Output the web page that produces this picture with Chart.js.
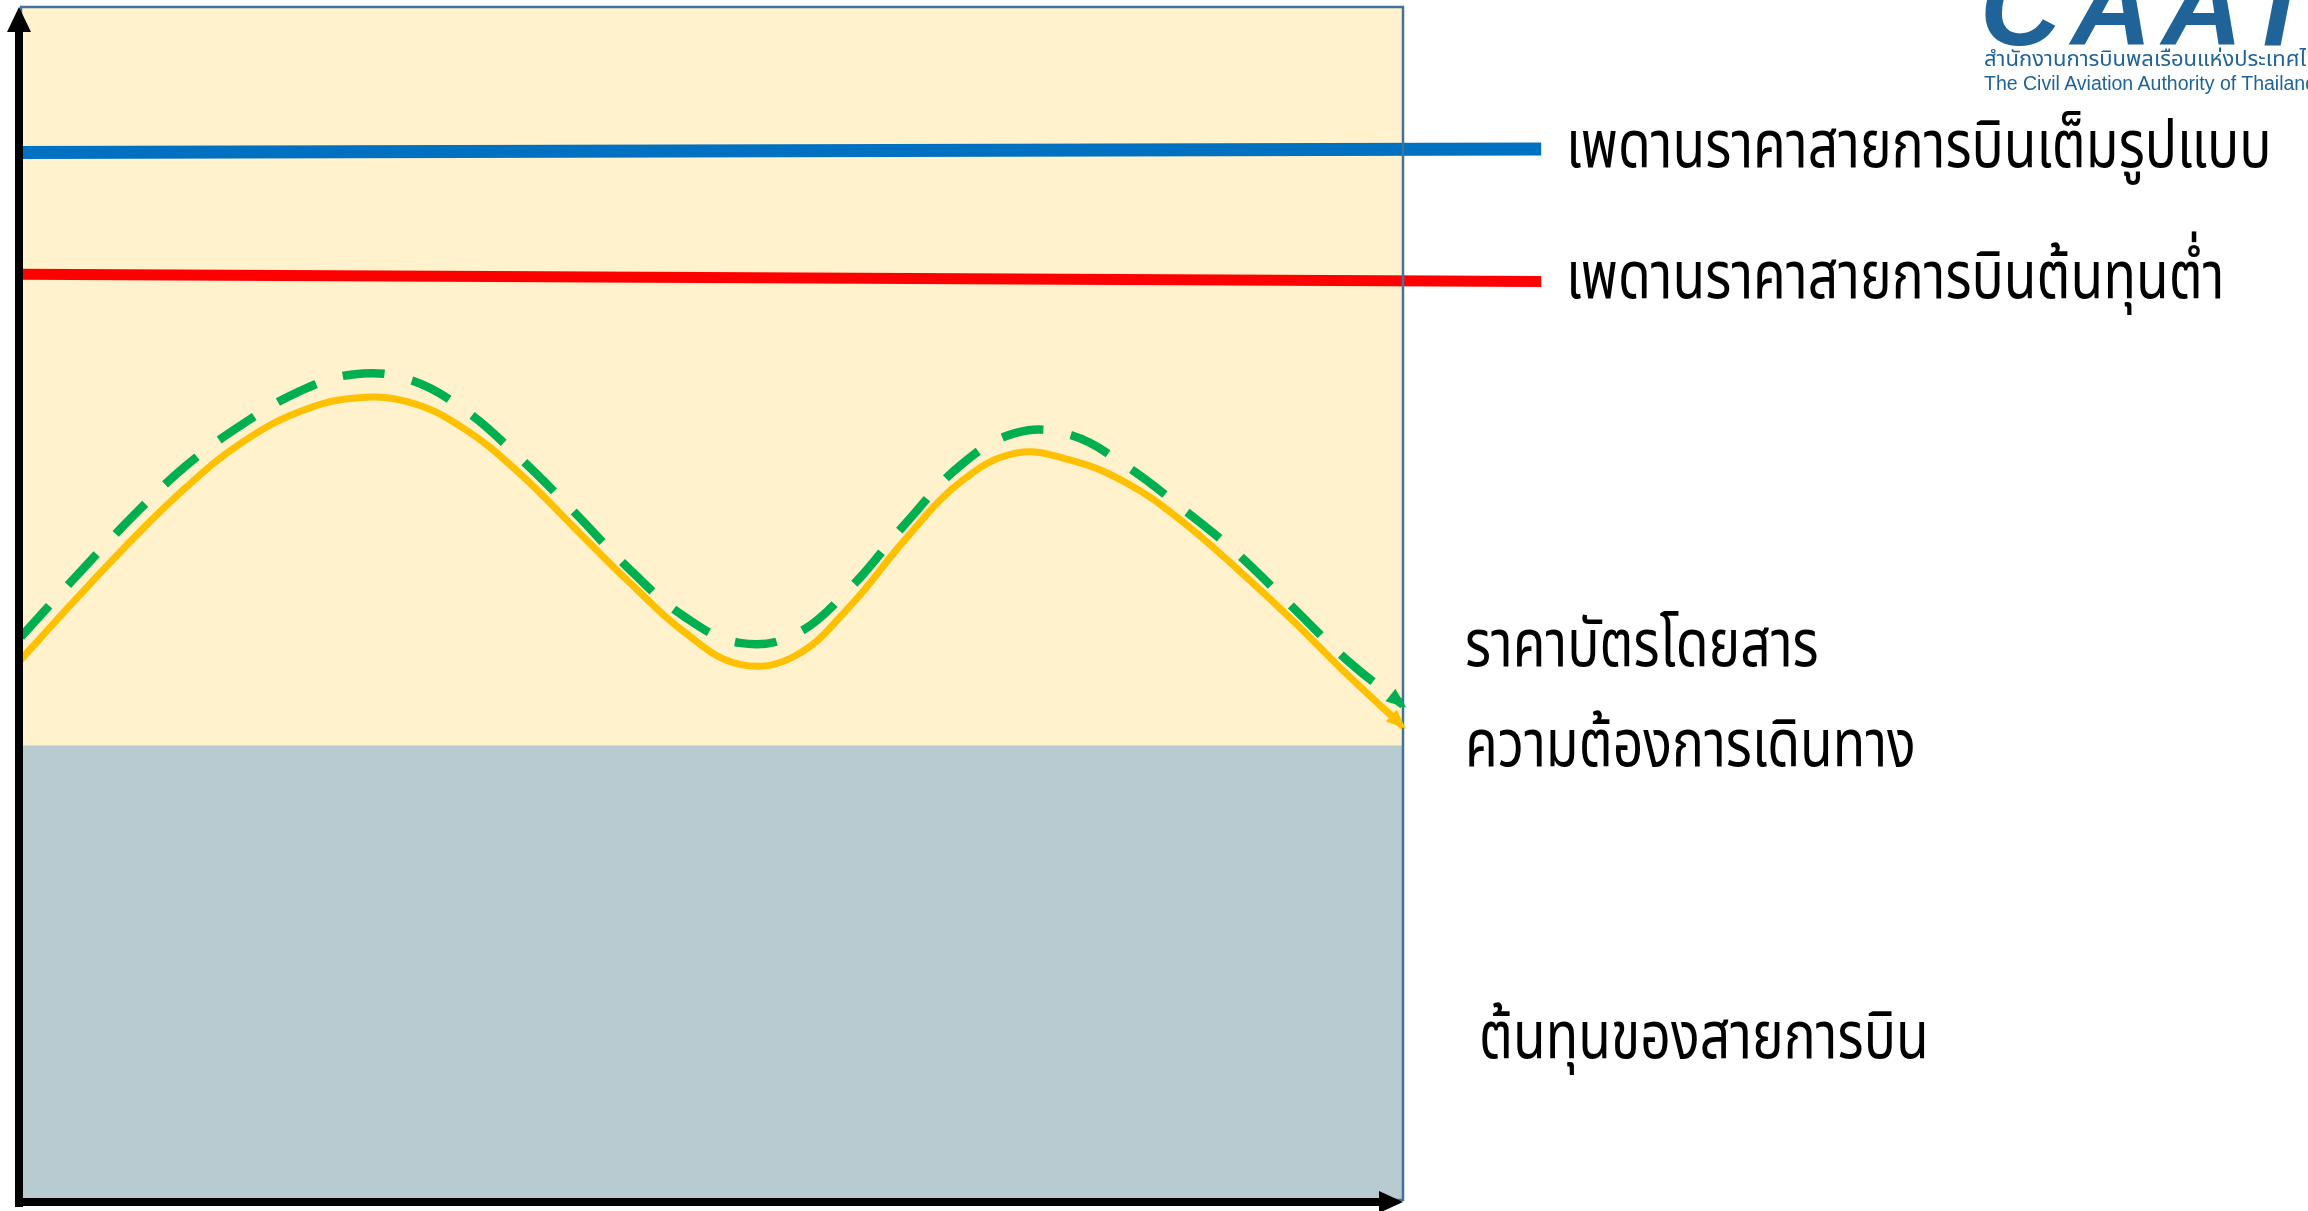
<!DOCTYPE html>
<html lang="th">
<head>
<meta charset="UTF-8">
<title>เพดานราคาและราคาบัตรโดยสาร</title>
<style>
  body { margin: 0; background: #ffffff; overflow: hidden; }
  .wrap { position: relative; width: 2308px; height: 1211px; }
  .label {
    position: absolute;
    font-family: "Noto Sans Thai", "Noto Sans Thai UI", "Loma", "Garuda", "Norasi", "DejaVu Sans", sans-serif;
    font-size: 66px;
    line-height: 1;
    color: #000000;
    white-space: nowrap;
    transform: scaleX(0.81);
    transform-origin: left top;
  }
  .logo { position: absolute; color: #1F6399; white-space: nowrap; line-height: 1; }
  .logo-big { left: 1980px; top: -58px; font: italic bold 112px "Liberation Sans", Arial, sans-serif; letter-spacing: 10px; }
  .logo-th { left: 1984px; top: 49px; font-size: 22px; font-family: "Noto Sans Thai", "Loma", "Garuda", sans-serif; }
  .logo-en { left: 1984px; top: 72px; font: 19.5px "Liberation Sans", Arial, sans-serif; }
</style>
</head>
<body>
<div class="wrap">
  <canvas id="grafica" width="2308" height="1211"></canvas>

  <div class="label" style="left:1566px; top:114px;">เพดานราคาสายการบินเต็มรูปแบบ</div>
  <div class="label" style="left:1566px; top:245px;">เพดานราคาสายการบินต้นทุนต่ำ</div>
  <div class="label" style="left:1465px; top:613px;">ราคาบัตรโดยสาร</div>
  <div class="label" style="left:1465px; top:713px;">ความต้องการเดินทาง</div>
  <div class="label" style="left:1479px; top:1005px;">ต้นทุนของสายการบิน</div>

  <div class="logo logo-big">CAAT</div>
  <div class="logo logo-th">สำนักงานการบินพลเรือนแห่งประเทศไทย</div>
  <div class="logo logo-en">The Civil Aviation Authority of Thailand</div>
</div>

<script src="https://cdn.jsdelivr.net/npm/chart.js"></script>
<script>
// posiciones en el eje x (0 = inicio, 100 = fin del periodo)
const xPos = [0, 4, 8, 12, 16, 20, 24, 28, 32, 36, 40, 44, 48, 52, 56, 60, 64, 68, 72, 76, 80, 84, 88, 92, 96, 100];

// ราคาบัตรโดยสาร (línea verde discontinua)
const fareValues = [47.2, 52.3, 57.2, 61.6, 65.0, 67.7, 69.2, 68.8, 66.3, 62.3, 57.7, 52.9, 48.9,
                    46.7, 47.4, 51.3, 56.7, 61.6, 64.3, 64.1, 61.5, 58.0, 54.2, 49.7, 45.2, 41.5];

// ความต้องการเดินทาง (línea amarilla)
const demandValues = [45.3, 50.4, 55.3, 59.8, 63.5, 66.0, 67.2, 66.9, 64.7, 61.0, 56.4, 51.8, 47.6,
                      44.9, 45.6, 49.8, 55.4, 60.2, 62.6, 62.0, 60.1, 56.9, 52.9, 48.6, 44.0, 39.7];

// techos de precio (se extienden hasta la etiqueta)
const capX = [0, 110];
const fullServiceCap = [87.8, 88.1];
const lowCostCap = [77.6, 77.0];

// costo de la aerolínea
const costX = [0, 100];
const airlineCost = [38.1, 38.1];

const toPoints = (xs, ys) => xs.map((x, i) => ({ x: x, y: ys[i] }));

// fondo crema, marco azul, ejes con flecha
const decoracion = {
    id: 'decoracion',
    beforeDraw(chart) {
        const { ctx, chartArea: a } = chart;
        ctx.save();
        ctx.fillStyle = '#FFF2CC';
        ctx.fillRect(a.left, a.top, a.right - a.left, a.bottom - a.top);
        ctx.restore();
    },
    afterDatasetsDraw(chart) {
        const { ctx, chartArea: a } = chart;
        ctx.save();
        ctx.strokeStyle = '#41719C';
        ctx.lineWidth = 2.5;
        ctx.strokeRect(a.left, a.top, a.right - a.left, a.bottom - a.top);

        // puntas de flecha al final de las curvas
        [2, 3].forEach((i) => {
            const pts = chart.getDatasetMeta(i).data;
            const p = pts[pts.length - 1];
            const q = pts[pts.length - 2];
            const ang = Math.atan2(p.y - q.y, p.x - q.x);
            ctx.fillStyle = chart.data.datasets[i].borderColor;
            ctx.beginPath();
            ctx.moveTo(p.x + 4 * Math.cos(ang), p.y + 4 * Math.sin(ang));
            ctx.lineTo(p.x - 16 * Math.cos(ang) - 8 * Math.sin(ang), p.y - 16 * Math.sin(ang) + 8 * Math.cos(ang));
            ctx.lineTo(p.x - 16 * Math.cos(ang) + 8 * Math.sin(ang), p.y - 16 * Math.sin(ang) - 8 * Math.cos(ang));
            ctx.closePath();
            ctx.fill();
        });
        ctx.restore();
    },
    afterDraw(chart) {
        const { ctx, chartArea: a } = chart;
        const ax = a.left - 2;      // eje y
        const ay = a.bottom + 2;    // eje x
        ctx.save();
        ctx.strokeStyle = '#000000';
        ctx.fillStyle = '#000000';
        ctx.lineWidth = 8;
        ctx.beginPath();
        ctx.moveTo(ax, ay + 5);
        ctx.lineTo(ax, a.top + 20);
        ctx.moveTo(ax - 4, ay);
        ctx.lineTo(a.right - 20, ay);
        ctx.stroke();
        // flecha eje y
        ctx.beginPath();
        ctx.moveTo(ax, a.top);
        ctx.lineTo(ax - 12, a.top + 25);
        ctx.lineTo(ax + 12, a.top + 25);
        ctx.closePath();
        ctx.fill();
        // flecha eje x
        ctx.beginPath();
        ctx.moveTo(a.right, ay);
        ctx.lineTo(a.right - 24, ay - 11);
        ctx.lineTo(a.right - 24, ay + 11);
        ctx.closePath();
        ctx.fill();
        ctx.restore();
    }
};

const ctx = document.getElementById('grafica').getContext('2d');
const chart = new Chart(ctx, {
    type: 'line',
    data: {
        datasets: [
            {
                label: 'ต้นทุนของสายการบิน',
                data: toPoints(costX, airlineCost),
                borderWidth: 0,
                backgroundColor: '#B7CBD0',
                fill: 'origin',
                pointRadius: 0,
                order: 5
            },
            {
                label: 'เพดานราคาสายการบินเต็มรูปแบบ',
                data: toPoints(capX, fullServiceCap),
                borderColor: '#0070C0',
                borderWidth: 13,
                pointRadius: 0,
                clip: false,
                order: 2
            },
            {
                label: 'ความต้องการเดินทาง',
                data: toPoints(xPos, demandValues),
                borderColor: '#FFC000',
                borderWidth: 7,
                tension: 0.4,
                pointRadius: 0,
                order: 4
            },
            {
                label: 'ราคาบัตรโดยสาร',
                data: toPoints(xPos, fareValues),
                borderColor: '#00B050',
                borderWidth: 8.5,
                borderDash: [42, 28],
                borderCapStyle: 'butt',
                tension: 0.4,
                pointRadius: 0,
                order: 3
            },
            {
                label: 'เพดานราคาสายการบินต้นทุนต่ำ',
                data: toPoints(capX, lowCostCap),
                borderColor: '#FF0000',
                borderWidth: 11,
                pointRadius: 0,
                clip: false,
                order: 1
            }
        ]
    },
    options: {
        responsive: false,
        animation: false,
        layout: { padding: { left: 21, top: 7, right: 905, bottom: 11 } },
        plugins: { legend: { display: false }, tooltip: { enabled: false } },
        scales: {
            x: {
                type: 'linear', min: 0, max: 100,
                grid: { display: false, drawTicks: false },
                ticks: { display: false },
                border: { display: false }
            },
            y: {
                type: 'linear', min: 0, max: 100,
                grid: { display: false, drawTicks: false },
                ticks: { display: false },
                border: { display: false }
            }
        }
    },
    plugins: [decoracion]
});
</script>
</body>
</html>
